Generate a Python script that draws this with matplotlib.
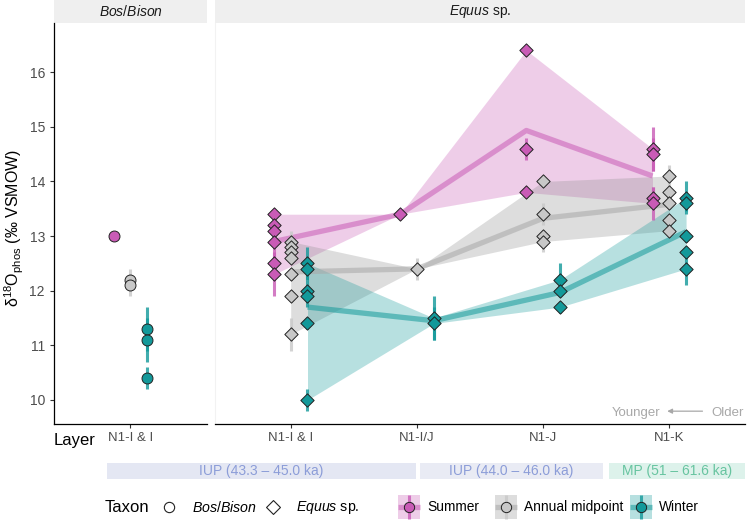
import numpy as np
import matplotlib
matplotlib.use("Agg")
import matplotlib.pyplot as plt
from matplotlib.patches import Rectangle

plt.rcParams["font.family"] = ["Liberation Sans", "DejaVu Sans"]
plt.rcParams["mathtext.fontset"] = "custom"
plt.rcParams["mathtext.rm"] = "Liberation Sans"
plt.rcParams["mathtext.it"] = "Liberation Sans:italic"

# ── data ─────────────────────────────────────────────────────
SEASONS = ["Summer", "Annual midpoint", "Winter"]
COLORS = {"Summer": "#C95BB6", "Annual midpoint": "#C8C8C8", "Winter": "#13999A"}
RIBBON = {"Summer": "#C95BB6", "Annual midpoint": "#8F8F8F", "Winter": "#13999A"}
MEANLINE = {"Summer": "#C95BB6", "Annual midpoint": "#A8A8A8", "Winter": "#13999A"}

bison_layers = ["N1-I & I"]
bison_summer = [[13.0]]
bison_summer_err = [[0.05]]
bison_annual = [[12.2, 12.1]]
bison_annual_err = [[0.2, 0.2]]
bison_winter = [[11.3, 11.1, 10.4]]
bison_winter_err = [[0.4, 0.4, 0.2]]

equus_layers = ["N1-I & I", "N1-I/J", "N1-J", "N1-K"]
equus_summer = [[13.4, 13.2, 13.1, 12.9, 12.5, 12.3], [13.4],
                [16.4, 14.6, 13.8], [14.6, 14.5, 13.7, 13.6]]
equus_summer_err = [[0.05, 0.05, 0.05, 0.1, 0.3, 0.4], [0.05],
                    [0.05, 0.2, 0.05], [0.4, 0.3, 0.2, 0.3]]
equus_annual = [[12.9, 12.8, 12.7, 12.6, 12.3, 11.9, 11.2], [12.4],
                [14.0, 13.4, 13.0, 12.9], [14.1, 13.8, 13.6, 13.3, 13.1]]
equus_annual_err = [[0.2, 0.1, 0.1, 0.1, 0.1, 0.1, 0.3], [0.2],
                    [0.1, 0.2, 0.1, 0.2], [0.2, 0.1, 0.1, 0.1, 0.1]]
equus_winter = [[12.5, 12.4, 12.0, 11.9, 11.4, 10.0], [11.5, 11.4],
                [12.2, 12.0, 11.7], [13.7, 13.6, 13.0, 12.7, 12.4]]
equus_winter_err = [[0.3, 0.2, 0.2, 0.2, 0.1, 0.2], [0.4, 0.3],
                    [0.3, 0.1, 0.1], [0.3, 0.15, 0.1, 0.1, 0.3]]

period_labels = ["IUP (43.3 \u2013 45.0 ka)", "IUP (44.0 \u2013 46.0 ka)", "MP (51 \u2013 61.6 ka)"]
period_fill = ["#E4E7F3", "#E9EBF4", "#DDF2EB"]
period_text = ["#8C9DD8", "#8C9DD8", "#67C4A0"]

# ── layout (pixels of a 750x520 canvas) ─────────────────────
W, H = 750, 520
DODGE = {"Summer": -0.133, "Annual midpoint": 0.0, "Winter": 0.133}
YLIM = (9.56, 16.9)

fig = plt.figure(figsize=(7.5, 5.2), dpi=100)
ax1 = fig.add_axes([54 / W, 96 / H, 153 / W, 401 / H])
ax2 = fig.add_axes([215 / W, 96 / H, 530 / W, 401 / H])


def draw_group(ax, layers, values, errs, season, marker, ms, ribbon):
    col = COLORS[season]
    pos = np.arange(1, len(layers) + 1) + DODGE[season]
    if ribbon:
        lo = [min(v) for v in values]
        hi = [max(v) for v in values]
        mu = [np.mean(v) for v in values]
        ax.fill_between(pos, lo, hi, color=RIBBON[season], alpha=0.3, lw=0, zorder=1)
        ax.plot(pos, mu, color=MEANLINE[season], lw=3.8, alpha=0.55,
                solid_capstyle="butt", zorder=2)
    for p, vals, ee in zip(pos, values, errs):
        for v, e in zip(vals, ee):
            ax.plot([p, p], [v - e, v + e], color=col, lw=2.2, alpha=0.8,
                    solid_capstyle="butt", zorder=3)
    for p, vals in zip(pos, values):
        ax.scatter([p] * len(vals), vals, marker=marker, s=ms, facecolor=col,
                   edgecolor="#222222", lw=0.7, zorder=4)


draw_group(ax1, bison_layers, bison_summer, bison_summer_err, "Summer", "o", 62, False)
draw_group(ax1, bison_layers, bison_annual, bison_annual_err, "Annual midpoint", "o", 62, False)
draw_group(ax1, bison_layers, bison_winter, bison_winter_err, "Winter", "o", 62, False)

draw_group(ax2, equus_layers, equus_summer, equus_summer_err, "Summer", "D", 46, True)
draw_group(ax2, equus_layers, equus_annual, equus_annual_err, "Annual midpoint", "D", 46, True)
draw_group(ax2, equus_layers, equus_winter, equus_winter_err, "Winter", "D", 46, True)

for ax, layers in ((ax1, bison_layers), (ax2, equus_layers)):
    ax.set_xlim(0.4, len(layers) + 0.6)
    ax.set_ylim(*YLIM)
    ax.set_xticks(np.arange(1, len(layers) + 1))
    ax.set_xticklabels(layers, fontsize=9.5, color="#4D4D4D")
    ax.tick_params(axis="x", length=3, width=0.8, color="#333333", pad=3)
    for s in ("top", "right"):
        ax.spines[s].set_visible(False)
    ax.spines["bottom"].set_linewidth(0.9)

ax1.set_yticks(np.arange(10, 17))
ax1.tick_params(axis="y", labelsize=10, labelcolor="#4D4D4D", length=3, width=0.8, color="#333333")
ax1.spines["left"].set_linewidth(0.9)
ax2.spines["left"].set_color("#F2F2F2")
ax2.tick_params(axis="y", left=False, labelleft=False)

# facet strips
strip_h = 23 / 401
for ax, lab in ((ax1, "$\\mathit{Bos/Bison}$"), (ax2, "$\\mathit{Equus}$ sp.")):
    ax.add_patch(Rectangle((0, 1), 1, strip_h, transform=ax.transAxes,
                           facecolor="#EFEFEF", edgecolor="none", clip_on=False))
    ax.text(0.5, 1 + strip_h / 2, lab, transform=ax.transAxes, ha="center",
            va="center", fontsize=10, color="#1A1A1A")

# Younger <- Older
ax2.text(0.8396, 0.02, "Younger", transform=ax2.transAxes, ha="right", va="baseline",
         fontsize=9.5, color="#A8A8A8")
ax2.text(0.936, 0.02, "Older", transform=ax2.transAxes, ha="left", va="baseline",
         fontsize=9.5, color="#A8A8A8")
ax2.annotate("", xy=(0.848, 0.032), xytext=(0.925, 0.032), xycoords="axes fraction",
             arrowprops=dict(arrowstyle="-|>", color="#A8A8A8", lw=0.9, mutation_scale=7))

# y label and "Layer"
fig.text(14 / W, 1 - 228 / H, "\u03b4$^{18}$O$_{\\mathrm{phos}}$ (\u2030 VSMOW)",
         rotation=90, ha="center", va="center", fontsize=11.5)
fig.text(95 / W, 1 - 441 / H, "Layer", ha="right", va="center", fontsize=12)

# overlay for period bands and legend, in canvas pixels
lax = fig.add_axes([0, 0, 1, 1], zorder=5)
lax.set_xlim(0, W)
lax.set_ylim(H, 0)
lax.axis("off")
lax.patch.set_alpha(0)

band_x = [(107, 416), (420, 603), (609, 745)]
for (x0, x1), lab, fc, tc in zip(band_x, period_labels, period_fill, period_text):
    lax.add_patch(Rectangle((x0, 463), x1 - x0, 16, facecolor=fc, edgecolor="none"))
    lax.text((x0 + x1) / 2, 471.5, lab, ha="center", va="center", fontsize=10, color=tc)

# Taxon legend
ly = 507
lax.text(105, ly, "Taxon", ha="left", va="center", fontsize=12)
lax.scatter([169], [ly], marker="o", s=55, facecolor="white", edgecolor="#222222", lw=0.8)
lax.text(192, ly, "$\\mathit{Bos/Bison}$", ha="left", va="center", fontsize=10.2)
lax.scatter([273], [ly], marker="D", s=50, facecolor="white", edgecolor="#222222", lw=0.8)
lax.text(296, ly, "$\\mathit{Equus}$ sp.", ha="left", va="center", fontsize=10.2)

# season legend
for cx, season in zip([409, 506, 641], SEASONS):
    col = COLORS[season]
    lax.add_patch(Rectangle((cx - 11, ly - 12), 22, 24, facecolor=RIBBON[season], alpha=0.3,
                            edgecolor="none"))
    lax.plot([cx - 11, cx + 11], [ly, ly], color=MEANLINE[season], lw=3.8, alpha=0.55,
             solid_capstyle="butt")
    lax.plot([cx, cx], [ly - 12, ly + 12], color=col, lw=2.2, alpha=0.8,
             solid_capstyle="butt")
    lax.scatter([cx], [ly], marker="o", s=55, facecolor=col, edgecolor="#222222", lw=0.7,
                zorder=4)
    lax.text(cx + 18, ly, season, ha="left", va="center", fontsize=9.9)

fig.savefig("out.png", dpi=100)
